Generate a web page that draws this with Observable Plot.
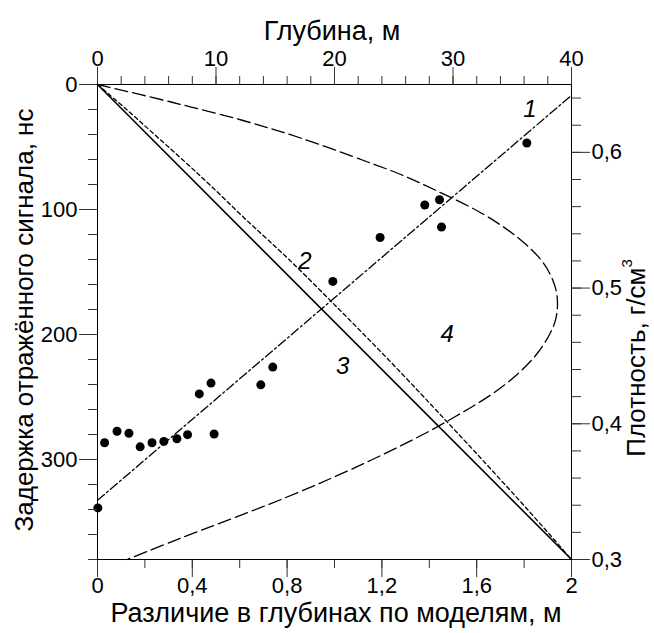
<!DOCTYPE html>
<html><head><meta charset="utf-8">
<script src="https://cdn.jsdelivr.net/npm/d3@7"></script>
<script src="https://cdn.jsdelivr.net/npm/@observablehq/plot@0.6"></script>
<style>
html,body{margin:0;padding:0;background:#fff;}
#chart{position:relative;width:654px;height:633px;background:#fff;}
#chart svg{position:absolute;left:0;top:0;overflow:visible;}
</style></head><body><div id="chart"></div>
<script>
// ---------- data ----------
// top axis: depth, m
const depthMajor = [0, 10, 20, 30, 40];
const depthLabels = ["0", "10", "20", "30", "40"];
// left axis: signal delay, ns
const delayMajor = [0, 100, 200, 300];
const delayLabels = ["0", "100", "200", "300"];
// bottom axis: depth difference between models, m
const diffMajor = [0, 0.4, 0.8, 1.2, 1.6, 2];
const diffLabels = ["0", "0,4", "0,8", "1,2", "1,6", "2"];
// right axis: density, g/cm3
const densMajor = [0.3, 0.4, 0.5, 0.6];
const densLabels = ["0,3", "0,4", "0,5", "0,6"];

// measured density points (depth m, density g/cm3)
const ptDepth   = [0.03, 0.60, 1.65, 2.65, 3.6, 4.6, 5.6, 6.7, 7.6, 8.59, 9.58, 9.84, 13.78, 14.79, 19.86, 23.85, 27.62, 28.86, 29.03, 36.23];
const ptDensity = [0.338, 0.386, 0.3945, 0.393, 0.383, 0.386, 0.387, 0.389, 0.392, 0.422, 0.430, 0.3925, 0.4287, 0.4418, 0.5049, 0.5373, 0.5612, 0.5651, 0.545, 0.6069];

// curve 1: density trend vs depth
const c1Depth = [0, 40];
const c1Density = [0.3436, 0.642];

// curve 3: delay vs depth (model A)
const c3Delay = [0, 380];
const c3Depth = [0, 40];

// curve 2: delay vs depth (model B)
const c2Delay = [0, 20, 40, 60, 80, 108, 140, 180, 220, 260, 300, 340, 380];
const c2Depth = [0, 2.45, 4.81, 7.16, 9.45, 12.52, 16.16, 20.4, 24.54, 28.53, 32.45, 36.29, 40];

// curve 4: depth difference vs delay
const c4Delay = [0, 14, 28.6, 43, 62, 72, 84, 104, 122, 140, 156, 171, 190, 214, 240, 270, 300, 330, 363, 380];
const c4Diff  = [0, 0.31, 0.61, 0.86, 1.14, 1.28, 1.42, 1.63, 1.77, 1.87, 1.92, 1.94, 1.93, 1.86, 1.72, 1.47, 1.16, 0.80, 0.35, 0.125];

// curve number labels
const labNames = ["1", "2", "3", "4"];
const labDepth = [36.5, 17.5, 20.7, 29.5];
const labDelay = [20.2, 141.6, 225.8, 200.2];

// ---------- tables ----------
const points = ptDepth.map((d, i) => ({depth: d, density: ptDensity[i]}));
const c1 = c1Depth.map((d, i) => ({depth: d, density: c1Density[i]}));
const c2 = c2Delay.map((t, i) => ({delay: t, depth: c2Depth[i]}));
const c3 = c3Delay.map((t, i) => ({delay: t, depth: c3Depth[i]}));
const c4 = c4Delay.map((t, i) => ({delay: t, diff: c4Diff[i]}));
const labs = labNames.map((n, i) => ({name: n, depth: labDepth[i], delay: labDelay[i]}));

const W = 654, H = 633;
const M = {marginLeft: 97, marginRight: 83, marginTop: 84, marginBottom: 74};
const FONT = "'Liberation Sans', Arial, sans-serif";
const TICK = "#333";
const fmt = (vals, labels) => { const m = new Map(vals.map((v, i) => [v, labels[i]])); return d => m.get(d) ?? ""; };
const base = {width: W, height: H, ...M, style: {fontFamily: FONT, fontSize: "22px", background: "transparent", color: "#000"}};

const depthMinor = d3.range(0, 40.001, 2);
const delayMinor = d3.range(0, 380.001, 20);
const diffMinor = d3.range(0, 2.0001, 0.2);
const densMinor = d3.range(0.30, 0.6501, 0.02);

// Plot A: depth (top) vs delay (left)
const A = Plot.plot({...base,
  x: {domain: [0, 40]},
  y: {domain: [0, 380], reverse: true},
  marks: [
    Plot.axisX({anchor: "top", ticks: depthMinor, tickSize: 9, tickFormat: () => "", stroke: TICK, label: null}),
    Plot.axisX({anchor: "top", ticks: depthMajor, tickSize: 18, tickPadding: 1, tickFormat: fmt(depthMajor, depthLabels), stroke: TICK, fontSize: 22, label: null}),
    Plot.axisY({anchor: "left", ticks: delayMinor, tickSize: 9, tickFormat: () => "", stroke: TICK, label: null}),
    Plot.axisY({anchor: "left", ticks: delayMajor, tickSize: 18, tickPadding: 2, tickFormat: fmt(delayMajor, delayLabels), stroke: TICK, fontSize: 22, label: null}),
    Plot.line(c3, {x: "depth", y: "delay", stroke: "#000", strokeWidth: 1.6}),
    Plot.line(c2, {x: "depth", y: "delay", stroke: "#000", strokeWidth: 1.3, strokeDasharray: "4,3", curve: "catmull-rom"}),
    Plot.text(labs, {x: "depth", y: "delay", text: "name", fontSize: 24, fontStyle: "italic", fill: "#000"}),
    Plot.frame({stroke: "#000", strokeWidth: 1})
  ]
});

// Plot B: depth vs density (right)
const B = Plot.plot({...base,
  x: {domain: [0, 40], axis: null},
  y: {domain: [0.3, 0.65]},
  marks: [
    Plot.axisY({anchor: "right", ticks: densMinor, tickSize: 9, tickFormat: () => "", stroke: TICK, label: null}),
    Plot.axisY({anchor: "right", ticks: densMajor, tickSize: 18, tickPadding: 2, tickFormat: fmt(densMajor, densLabels), stroke: TICK, fontSize: 22, label: null}),
    Plot.line(c1, {x: "depth", y: "density", stroke: "#000", strokeWidth: 1.3, strokeDasharray: "9,3,2,3"}),
    Plot.dot(points, {x: "depth", y: "density", r: 4.5, fill: "#000", stroke: "none"})
  ]
});

// Plot C: diff (bottom) vs delay
const C = Plot.plot({...base,
  x: {domain: [0, 2]},
  y: {domain: [0, 380], reverse: true, axis: null},
  marks: [
    Plot.axisX({anchor: "bottom", ticks: diffMinor, tickSize: 9, tickFormat: () => "", stroke: TICK, label: null}),
    Plot.axisX({anchor: "bottom", ticks: diffMajor, tickSize: 18, tickPadding: 0, tickFormat: fmt(diffMajor, diffLabels), stroke: TICK, fontSize: 22, label: null}),
    Plot.line(c4, {x: "diff", y: "delay", stroke: "#000", strokeWidth: 1.3, strokeDasharray: "13,5", curve: "catmull-rom"})
  ]
});

const host = document.getElementById("chart");
host.append(C, B, A);

// axis titles
const svg = d3.select(A);
svg.append("text").attr("x", 332).attr("y", 40).attr("text-anchor", "middle")
  .attr("font-family", FONT).attr("font-size", 27).text("Глубина, м");
svg.append("text").attr("x", 336).attr("y", 622).attr("text-anchor", "middle")
  .attr("font-family", FONT).attr("font-size", 27).text("Различие в глубинах по моделям, м");
svg.append("text").attr("transform", "translate(33,320) rotate(-90)").attr("text-anchor", "middle")
  .attr("font-family", FONT).attr("font-size", 26).text("Задержка отражённого сигнала, нс");
const rt = svg.append("text").attr("transform", "translate(645,358) rotate(-90)").attr("text-anchor", "middle")
  .attr("font-family", FONT).attr("font-size", 26);
rt.append("tspan").text("Плотность, г/см");
rt.append("tspan").attr("font-size", 15).attr("dy", -13).text("3");
</script></body></html>
